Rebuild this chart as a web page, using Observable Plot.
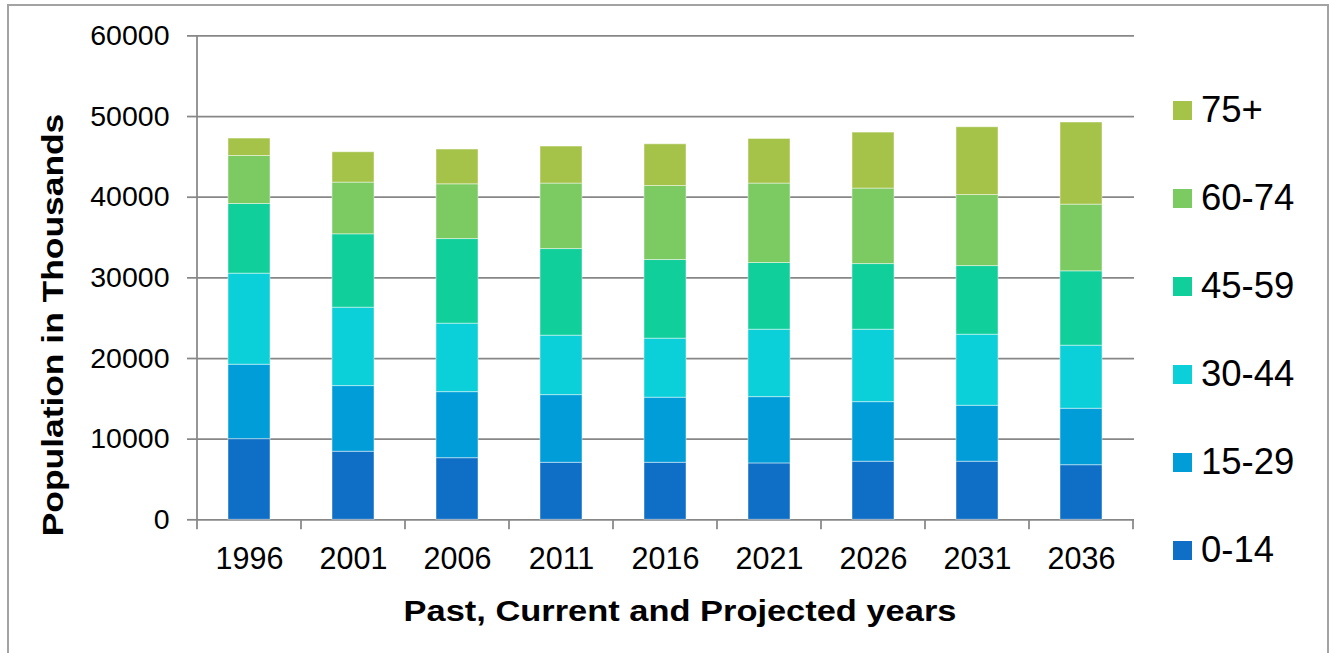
<!DOCTYPE html>
<html>
<head>
<meta charset="utf-8">
<script src="https://cdn.jsdelivr.net/npm/d3@7"></script>
<script src="https://cdn.jsdelivr.net/npm/@observablehq/plot@0.6"></script>
<style>
  html, body { margin: 0; padding: 0; background: #fff; }
  #wrap { position: relative; width: 1330px; height: 653px; overflow: hidden;
          font-family: "Liberation Sans", Arial, sans-serif; color: #000; }
  #border { position: absolute; left: 7px; top: 4px; width: 1322px; height: 700px;
            border: 2px solid #a3a3a3; box-sizing: border-box; pointer-events: none; }
  #chart { position: absolute; left: 0; top: 0; }
  .ytitle { position: absolute; left: 53px; top: 325px; white-space: nowrap;
            font-weight: bold; font-size: 29px; line-height: 1;
            transform: translate(-50%, -50%) rotate(-90deg) scaleX(1.22); }
  .xtitle { position: absolute; left: 680px; top: 597px; white-space: nowrap;
            font-weight: bold; font-size: 29px; line-height: 1;
            transform: translate(-50%, 0) scaleX(1.187); }
  #legend { position: absolute; left: 1173px; top: 66.75px; }
  .item { display: flex; align-items: center; height: 87.9px; }
  .sw { width: 19px; height: 19px; margin-right: 9px; flex: none; }
  .lab { font-size: 36.5px; line-height: 1; white-space: nowrap; }
</style>
</head>
<body>
<div id="wrap">
  <div id="chart"></div>
  <div id="border"></div>
  <div class="ytitle">Population in Thousands</div>
  <div class="xtitle">Past, Current and Projected years</div>
  <div id="legend"></div>
</div>
<script>
// ---- Data (population in thousands) ----
const years = ["1996", "2001", "2006", "2011", "2016", "2021", "2026", "2031", "2036"];
const ageGroups = ["0-14", "15-29", "30-44", "45-59", "60-74", "75+"];
const colors = ["#0F6FC6", "#009DD9", "#0BD0D9", "#10CF9B", "#7CCA62", "#A5C249"];
const yTicks = [0, 10000, 20000, 30000, 40000, 50000, 60000];

const age0_14  = [10000, 8440, 7640, 7070, 7070, 6990, 7200, 7200, 6770];
const age15_29 = [9230, 8140, 8190, 8390, 8070, 8220, 7390, 6940, 7000];
const age30_44 = [11290, 9720, 8490, 7370, 7320, 8360, 8980, 8810, 7820];
const age45_59 = [8640, 9100, 10490, 10740, 9750, 8270, 8140, 8510, 9220];
const age60_74 = [5950, 6410, 6790, 8120, 9180, 9850, 9360, 8810, 8270];
const age75plus = [2160, 3760, 4310, 4590, 5170, 5530, 6940, 8400, 10180];

const seriesValues = [age0_14, age15_29, age30_44, age45_59, age60_74, age75plus];
const rows = [];
ageGroups.forEach((g, gi) => {
  years.forEach((yr, i) => rows.push({ year: yr, group: g, value: seriesValues[gi][i] }));
});

const gridColor = "#878787";

const chart = Plot.plot({
  width: 1330,
  height: 653,
  marginLeft: 196,
  marginRight: 196,
  marginTop: 35.4,
  marginBottom: 133.7,
  style: { fontFamily: "'Liberation Sans', Arial, sans-serif", color: "#000", background: "transparent", overflow: "visible" },
  x: { domain: years, paddingInner: 0.6, paddingOuter: 0.3, label: null },
  y: { domain: [0, 60000], label: null },
  color: { domain: ageGroups, range: colors },
  marks: [
    Plot.gridY(yTicks, { stroke: gridColor, strokeOpacity: 1, strokeWidth: 1.75 }),
    Plot.barY(rows, { x: "year", y: "value", fill: "group", order: ageGroups,
                      stroke: "#ffffff", strokeOpacity: 0.45, strokeWidth: 1 }),
    Plot.axisY(yTicks, { tickSize: 9, tickPadding: 18, stroke: gridColor, strokeWidth: 1.75,
                         tickFormat: d => String(d), fontSize: 28.5, fill: "#000" }),
    Plot.axisX({ tickSize: 0, tickPadding: 28, fontSize: 30.5, fill: "#000" })
  ]
});
document.getElementById("chart").appendChild(chart);

// Axis line and category boundary ticks, positioned with Plot's own scales
const xs = chart.scale("x"), ys = chart.scale("y");
const gap = (xs.step - xs.bandwidth) / 2;
const bounds = years.map(y => xs.apply(y) - gap).concat([xs.apply(years[years.length - 1]) + xs.bandwidth + gap]);
const yBase = ys.apply(0), yTop = ys.apply(60000);
const svg = d3.select(chart);
const g = svg.append("g").attr("stroke", gridColor).attr("stroke-width", 1.75);
g.selectAll("line.xt").data(bounds).join("line")
  .attr("x1", d => d).attr("x2", d => d)
  .attr("y1", yBase).attr("y2", yBase + 10);
g.append("line").attr("x1", bounds[0]).attr("x2", bounds[0]).attr("y1", yTop).attr("y2", yBase);

// Legend (top to bottom: oldest group first)
const legend = document.getElementById("legend");
ageGroups.slice().reverse().forEach(gname => {
  const it = document.createElement("div");
  it.className = "item";
  const sw = document.createElement("div");
  sw.className = "sw";
  sw.style.background = colors[ageGroups.indexOf(gname)];
  const lab = document.createElement("div");
  lab.className = "lab";
  lab.textContent = gname;
  it.appendChild(sw); it.appendChild(lab);
  legend.appendChild(it);
});
</script>
</body>
</html>
